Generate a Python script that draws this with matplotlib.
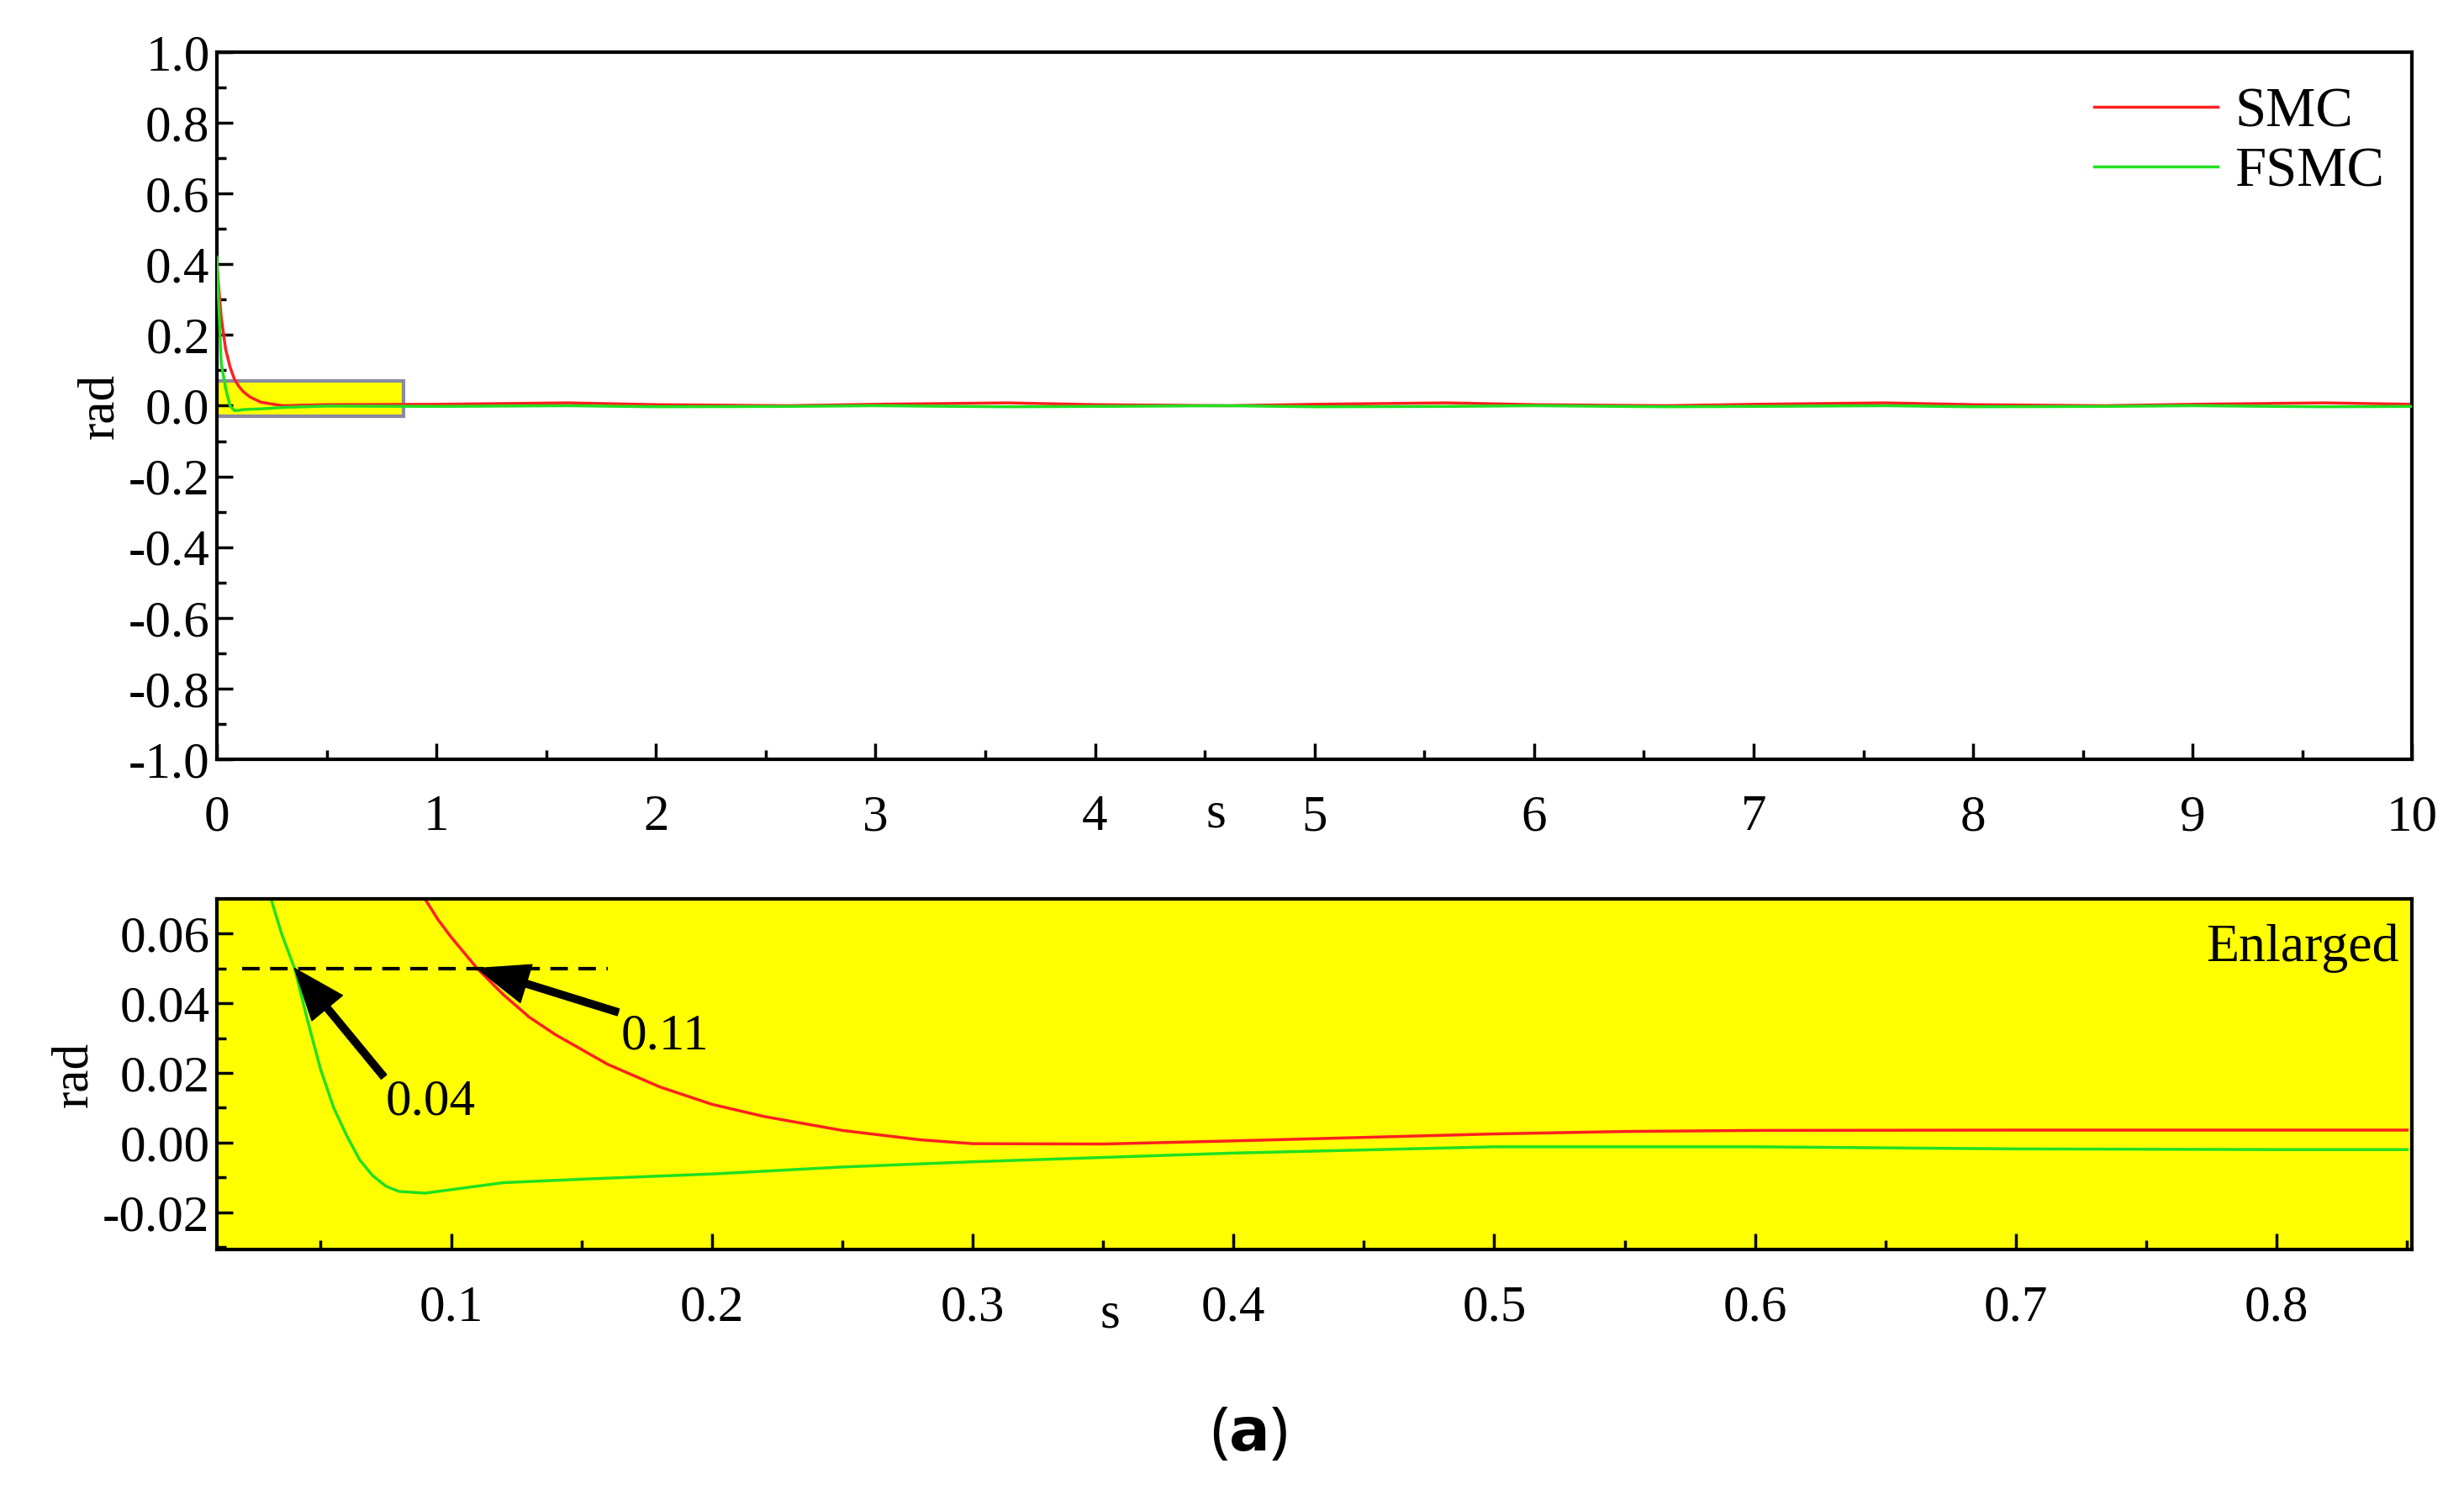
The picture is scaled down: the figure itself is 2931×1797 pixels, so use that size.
import matplotlib.pyplot as plt
from matplotlib.ticker import MultipleLocator

plt.rcParams['font.family'] = ['Liberation Serif', 'DejaVu Serif']

# full run (0-10 s)
t_full = [0, 0.02, 0.04, 0.06, 0.08, 0.1, 0.12, 0.15, 0.2, 0.3, 0.5, 1.0, 1.6, 2.0, 2.6,
          3.0, 3.6, 4.0, 4.6, 5.0, 5.6, 6.0, 6.6, 7.0, 7.6, 8.0, 8.6, 9.0, 9.6, 10.0]
smc_full = [0.40, 0.25, 0.16, 0.11, 0.075, 0.055, 0.04, 0.025, 0.01, 0.0, 0.003, 0.004, 0.008, 0.003,
            0.0, 0.004, 0.008, 0.003, 0.0, 0.004, 0.008, 0.003, 0.0, 0.004, 0.008, 0.003, 0.0, 0.004, 0.008, 0.004]
fsmc_full = [0.42, 0.12, 0.05, 0.0, -0.014, -0.013, -0.011, -0.010, -0.009, -0.005, -0.001, -0.002, 0.0, -0.003,
             -0.002, 0.0, -0.003, -0.002, 0.0, -0.003, -0.002, 0.0, -0.003, -0.002, 0.0, -0.003, -0.002, 0.0, -0.003, -0.002]

# enlarged window (0-0.85 s)
t_smc = [0.09, 0.095, 0.10, 0.105, 0.11, 0.12, 0.13, 0.14, 0.16, 0.18, 0.20, 0.22, 0.25, 0.28, 0.30,
         0.35, 0.40, 0.45, 0.50, 0.55, 0.60, 0.70, 0.80, 0.85]
smc = [0.0699, 0.064, 0.059, 0.0545, 0.050, 0.0425, 0.036, 0.031, 0.0225, 0.016, 0.011, 0.0075, 0.0035, 0.0008, -0.0003,
       -0.0004, 0.0005, 0.0015, 0.0025, 0.0032, 0.0035, 0.0036, 0.0036, 0.0036]
t_fsmc = [0.031, 0.035, 0.04, 0.045, 0.05, 0.055, 0.06, 0.065, 0.07, 0.075, 0.08, 0.09, 0.10, 0.12,
          0.15, 0.20, 0.25, 0.30, 0.40, 0.50, 0.60, 0.70, 0.80, 0.85]
fsmc = [0.0699, 0.060, 0.050, 0.035, 0.021, 0.010, 0.002, -0.005, -0.0095, -0.0125, -0.014, -0.0145, -0.0135, -0.0115,
        -0.0105, -0.009, -0.007, -0.0055, -0.003, -0.0012, -0.0012, -0.0018, -0.002, -0.002]

fig = plt.figure(figsize=(29.31, 17.97), dpi=100)
ax1 = fig.add_axes([0.088, 0.4975, 0.891, 0.468])
ax2 = fig.add_axes([0.088, 0.173, 0.891, 0.232])

for ax in (ax1, ax2):
    for sp in ax.spines.values():
        sp.set_linewidth(3)
    ax.tick_params(which='both', direction='in', width=2.5, labelsize=44)
    ax.tick_params(which='major', length=14)
    ax.tick_params(which='minor', length=8)
    ax.tick_params(axis='x', pad=30)
    ax.tick_params(axis='y', pad=6)

ax1.add_patch(plt.Rectangle((0, -0.03), 0.85, 0.10, facecolor='yellow', edgecolor='#8a8aa0', lw=3, zorder=1))
ax1.plot(t_full, smc_full, color='#ff2020', lw=2.5, label='SMC', zorder=2)
ax1.plot(t_full, fsmc_full, color='#20e020', lw=2.5, label='FSMC', zorder=3)
ax1.set_xlim(0, 10)
ax1.set_ylim(-1, 1)
ax1.xaxis.set_major_locator(MultipleLocator(1))
ax1.xaxis.set_minor_locator(MultipleLocator(0.5))
ax1.yaxis.set_major_locator(MultipleLocator(0.2))
ax1.yaxis.set_minor_locator(MultipleLocator(0.1))
ax1.set_yticklabels([f'{v:.1f}' for v in ax1.get_yticks()])
ax1.set_xlabel('s', fontsize=44)
ax1.xaxis.set_label_coords(0.455, -0.045)
ax1.set_ylabel('rad', fontsize=44, labelpad=4)
ax1.legend(loc='upper right', fontsize=48, frameon=False, handlelength=2.2,
           borderaxespad=0.1, labelspacing=0.15, handletextpad=0.3, bbox_to_anchor=(1.0, 0.99))

ax2.set_facecolor('yellow')
ax2.plot(t_smc, smc, color='#ff2020', lw=2.5)
ax2.plot(t_fsmc, fsmc, color='#20e020', lw=2.5)
ax2.plot([0.02, 0.16], [0.05, 0.05], color='black', lw=3, ls=(0, (5, 3)))
ax2.set_xlim(0.0102, 0.852)
ax2.set_ylim(-0.0307, 0.0699)
ax2.xaxis.set_major_locator(MultipleLocator(0.1))
ax2.xaxis.set_minor_locator(MultipleLocator(0.05))
ax2.yaxis.set_major_locator(MultipleLocator(0.02))
ax2.yaxis.set_minor_locator(MultipleLocator(0.01))
ax2.set_yticklabels([f'{v:.2f}' for v in ax2.get_yticks()])
ax2.set_xlabel('s', fontsize=44)
ax2.xaxis.set_label_coords(0.407, -0.12)
ax2.set_ylabel('rad', fontsize=44, labelpad=4)
ax2.text(0.994, 0.93, 'Enlarged', transform=ax2.transAxes, ha='right', va='top', fontsize=46)

arrow = dict(facecolor='black', edgecolor='black', width=6, headwidth=34, headlength=44, shrink=0.0)
ax2.annotate('0.04', xy=(0.04, 0.05), xytext=(0.075, 0.0115), fontsize=44,
             arrowprops=arrow, ha='left', va='center')
ax2.annotate('0.11', xy=(0.11, 0.05), xytext=(0.165, 0.0305), fontsize=44,
             arrowprops=arrow, ha='left', va='center')

fig.text(0.507, 0.03, r'($\mathbf{a}$)', fontsize=52, family='Noto Sans', ha='center', va='bottom')

fig.savefig('out.png', dpi=100)
